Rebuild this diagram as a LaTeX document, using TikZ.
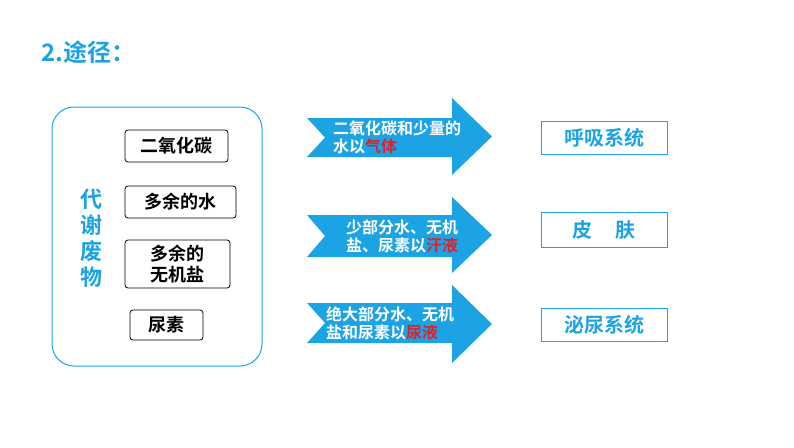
\documentclass[tikz,border=0pt]{standalone}
\usepackage{fontspec}
\setmainfont{Noto Sans CJK SC}[BoldFont={Noto Sans CJK SC Bold}]
\definecolor{sky}{HTML}{1CA3E3}
\definecolor{rd}{HTML}{E0202A}
\begin{document}
\begin{tikzpicture}[x=1pt,y=-1pt,
  inbox/.style={draw=black,line width=0.8pt,rounded corners=3pt,font=\bfseries\fontsize{18}{21}\selectfont,align=center,inner sep=0pt},
  outbox/.style={draw=sky,line width=0.8pt,font=\bfseries\fontsize{20}{22}\selectfont,text=sky,inner sep=0pt,minimum width=126pt},
  arrtxt/.style={text=white,font=\bfseries\fontsize{16}{18}\selectfont,align=left,inner sep=0pt}]
\useasboundingbox (0,0) rectangle (794,447);
\node[text=sky,font=\bfseries\fontsize{24}{26}\selectfont,anchor=west] (title) at (38,52) {2.途径：};
\node[draw=sky,line width=1pt,rounded corners=22pt,minimum width=210pt,minimum height=259pt] (big) at (157,236.5) {};
\node[text=sky,font=\bfseries\fontsize{22}{26}\selectfont,align=center] (vt) at (91,238) {代\\谢\\废\\物};
\node[inbox,minimum width=103pt,minimum height=32pt] (a) at (176.5,146) {二氧化碳};
\node[inbox,minimum width=111pt,minimum height=32pt] (b) at (180.5,202) {多余的水};
\node[inbox,minimum width=105pt,minimum height=48pt] (c) at (177.5,264) {多余的\\无机盐};
\node[inbox,minimum width=73pt,minimum height=30pt] (d) at (166.5,325) {尿素};
\foreach \i/\yb/\yt/\ht/\hb in {1/118/157/98/175, 2/215/257/197/273, 3/303/343/285/363}{
  \fill[sky] (307,\yb) -- (452,\yb) -- (452,\ht) -- (492,{(\ht+\hb)/2}) -- (452,\hb) -- (452,\yt) -- (307,\yt) -- (325,{(\yb+\yt)/2}) -- cycle;
}
\node[arrtxt,anchor=west] (t1) at (333,137) {二氧化碳和少量的\\水以\textcolor{rd}{气体}};
\node[arrtxt,anchor=west] (t2) at (346,236) {少部分水、无机\\盐、尿素以\textcolor{rd}{汗液}};
\node[arrtxt,anchor=west] (t3) at (326,323) {绝大部分水、无机\\盐和尿素以\textcolor{rd}{尿液}};
\node[outbox,minimum height=33pt] (r1) at (604,137.5) {呼吸系统};
\node[outbox,minimum height=35pt] (r2) at (604,229.5) {皮\hspace{1.2em}肤};
\node[outbox,minimum height=33pt] (r3) at (604,324.5) {泌尿系统};
\end{tikzpicture}
\end{document}
